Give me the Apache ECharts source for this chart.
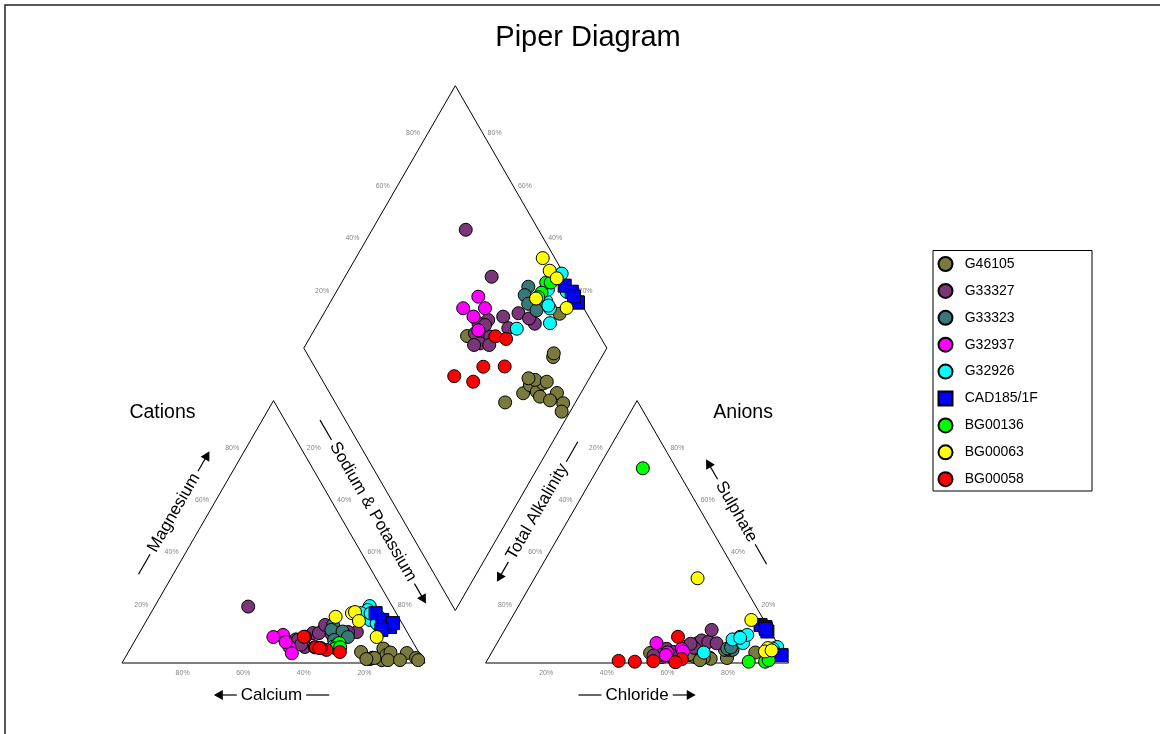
<!DOCTYPE html>
<html><head><meta charset="utf-8">
<script src="https://cdn.jsdelivr.net/npm/echarts@6/dist/echarts.min.js"></script>
<style>html,body{margin:0;padding:0;background:#fff}#c{width:1160px;height:734px}</style>
</head><body><div id="c"></div>
<script>
// ---------- DATA ----------
const groupNames = ['G46105','G33327','G33323','G32937','G32926','CAD185/1F','BG00136','BG00063','BG00058'];
// each sample: [Ca %, Mg %, Cl %, SO4 %]  (Na+K = 100-Ca-Mg ; total alkalinity = 100-Cl-SO4)
const G46105 = [[40.8,7.6,52.4,3.8],[19,4.2,55,1.1],[11,5,78.7,1.9],[11,5.5,76.5,5],[8,14.1,87,4],
  [17.5,1.5,60,3.8],[16.3,2,64,3.6],[13.7,1.1,65.6,3],[11.3,3,70.2,2],[15.7,1.9,68,2.3],
  [18.6,1.5,62.3,6.1],[9.4,4,66.2,7.6],[11.7,1.1,65.5,3.2],[4.1,3.8,73,2],[2,1.9,73.5,1.6],
  [1.7,1.1,71,2],[7.7,1.1,70.2,1.1]];
const G33327 = [[47.6,21.5,68,8],[41.7,9.9,67,8.6],[38.1,9,57,5.4],[35.7,8.8,62,4.2],[37.5,8.8,57,2.3],
  [36.6,6.1,59,3.3],[31.3,11.4,56,3.1],[29.3,11.4,60,3.7],[25.7,14.5,66,5.8],[24.4,11.4,69.5,8],
  [25.3,11,64,7.3],[16.6,11.8,68.3,12.6],[19.5,11.8,72.5,7.5],[37.4,7,54,2.8],[33.4,6,59,2.8],
  [34.6,10,60,4.2]];
const G33323 = [[23.1,14.5,78,7.8],[24.6,12.6,78,5],[21.2,12,79,5],[25.6,8.8,77,5.5],[20.5,9.9,78,6]];
const G32937 = [[41.5,10.7,62,5.4],[45.1,9.9,52.6,7.6],[41.7,6.1,63,4.4],[42,8,58,4],[42.1,3.7,58,3]];
const G32926 = [[7.4,21.7,93.2,6.1],[6.4,17.6,92,5.5],[8.8,20.2,79,10],[9.9,16.4,81.2,7.6],[8.4,15.1,77,9],
  [27.2,6.2,70,4],[11.6,19,81,10.7],[8.5,18.9,79.2,9.6]];
const CAD185_1F = [[6.8,19,83.5,14.5],[5.9,16.4,85.5,13.7],[4.7,13.7,87,12],[3,15.2,96.2,3],[8.1,12.6,86,13]];
const BG00136 = [[25.5,7,92,0.5],[24.5,7.6,14.8,74.2],[26.7,5.6,86.6,0.5],[25,6,92.9,1.1]];
const BG00063 = [[20.7,17.6,90.3,5.7],[14.6,19,79.5,16.4],[11,9.9,90,4.4],[13.4,19.4,53.8,32.3],[13.8,16,92,4.8]];
const BG00058 = [[33,6,64,1.5],[30,5,58.5,10],[31.5,5.7,55,0.7],[26,4.2,62.5,0.3],[35,10,43.5,0.8],[32,5.7,49,0.5]];
const groupData = [G46105,G33327,G33323,G32937,G32926,CAD185_1F,BG00136,BG00063,BG00058];
const tickValues = [20,40,60,80];

// ---------- STYLE ----------
const groupColors = ['#7a7a3c','#7a3678','#387878','#ff00ff','#00ffff','#0000ff','#00ff00','#ffff00','#ff0000'];
const groupSymbols = ['circle','circle','circle','circle','circle','rect','circle','circle','circle'];
const legendIcons = ['circle','circle','circle','circle','circle','path://M0,0L10,0L10,10L0,10Z','circle','circle','circle'];
const FONT = "'Liberation Sans', Arial, Helvetica, sans-serif";
const S = 3.03, OX = 122, OY = 663, WPX = 1160, HPX = 734;
const HT = Math.sqrt(3)/2;

// ---------- Piper transforms (ternary -> plot units) ----------
function cationXY(ca, mg){ const na = 100-ca-mg; return [na + mg/2, mg*HT]; }
function anionXY(cl, so4){ return [120 + cl + so4/2, so4*HT]; }
function diamondXY(na, clso4){ const t = 120 + clso4 - na; return [60 + (clso4+na)/2, t*HT]; }

const series = [];
// outlines
const outlines = [
  [cationXY(100,0), cationXY(0,0), cationXY(0,100), cationXY(100,0)],
  [anionXY(0,0), anionXY(100,0), anionXY(0,100), anionXY(0,0)],
  [diamondXY(100,0), diamondXY(0,0), diamondXY(0,100), diamondXY(100,100), diamondXY(100,0)]
];
outlines.forEach(o => series.push({type:'line', data:o, symbol:'none', silent:true, z:1,
  lineStyle:{color:'#000', width:1}, animation:false}));

// tick labels
const tickData = [];
tickValues.forEach(v => {
  tickData.push({name:v+'%', value:cationXY(v,0), label:{offset:[0,10]}});
  tickData.push({name:v+'%', value:cationXY(100-v,v), label:{offset:[-11,-5.5]}});
  tickData.push({name:v+'%', value:cationXY(0,100-v), label:{offset:[10,-5.5]}});
  tickData.push({name:v+'%', value:anionXY(v,0), label:{offset:[0,10]}});
  tickData.push({name:v+'%', value:anionXY(0,100-v), label:{offset:[-11,-5.5]}});
  tickData.push({name:v+'%', value:anionXY(100-v,v), label:{offset:[10,-5.5]}});
  tickData.push({name:v+'%', value:diamondXY(0,v), label:{offset:[-12,-5]}});
  tickData.push({name:v+'%', value:diamondXY(100-v,100), label:{offset:[9,-5]}});
});
series.push({type:'scatter', data:tickData, symbolSize:1, silent:true, z:1,
  itemStyle:{color:'rgba(0,0,0,0)'},
  label:{show:true, position:'inside', formatter:'{b}', fontSize:7, color:'#666', fontFamily:FONT}});

// sample series
groupNames.forEach((name,i) => {
  const rows = groupData[i];
  const pts = [];
  rows.forEach(r => pts.push(cationXY(r[0], r[1])));
  rows.forEach(r => pts.push(anionXY(r[2], r[3])));
  rows.forEach(r => pts.push(diamondXY(100-r[0]-r[1], r[2]+r[3])));
  series.push({type:'scatter', name, data:pts, symbol:groupSymbols[i], symbolSize:13, z:3+i*0.01,
    clip:false, itemStyle:{color:groupColors[i], borderColor:'#000', borderWidth:1, opacity:1}});
});

const chart = echarts.init(document.getElementById('c'), null, {renderer:'canvas'});
chart.setOption({
  animation:false,
  backgroundColor:'#fff',
  grid:{left:0, right:0, top:0, bottom:0, containLabel:false},
  xAxis:{type:'value', min:-OX/S, max:(WPX-OX)/S, show:false},
  yAxis:{type:'value', min:-(HPX-OY)/S, max:OY/S, show:false},
  legend:{data:groupNames.map((n,i)=>({name:n, icon:legendIcons[i]})), orient:'vertical',
    left:937.5, top:256, padding:0, itemWidth:28.4, itemHeight:14, itemGap:10.9, selectedMode:false,
    symbolKeepAspect:true,
    textStyle:{fontSize:14, color:'#000', fontFamily:FONT}},
  series
});

// ---------- annotations ----------
const mctx = document.createElement('canvas').getContext('2d');
function textW(t, size){ mctx.font = size + 'px ' + FONT; return mctx.measureText(t).width; }
function px(p){ return chart.convertToPixel({gridIndex:0}, p); }

function sideLabel(center, deg, text, arrowFirst){
  const fs = 17, w = textW(text, fs), aLen = 23, dLen = 23, gap = 4;
  const total = aLen + gap + w + gap + dLen, x0 = -total/2, x1 = total/2;
  const kids = [{type:'text', x:0, y:0, style:{text, font:fs+'px '+FONT, fill:'#000', textAlign:'center', textVerticalAlign:'middle'}}];
  let aStart, aTip, dA, dB;
  if (arrowFirst){ aTip = x0; aStart = x0 + aLen; dA = x1 - dLen; dB = x1; }
  else { dA = x0; dB = x0 + dLen; aTip = x1; aStart = x1 - aLen; }
  const dir = aTip < aStart ? 1 : -1;
  kids.push({type:'line', shape:{x1:dA, y1:0, x2:dB, y2:0}, style:{stroke:'#000', lineWidth:1.2}});
  kids.push({type:'line', shape:{x1:aStart, y1:0, x2:aTip + dir*8, y2:0}, style:{stroke:'#000', lineWidth:1.2}});
  kids.push({type:'polygon', shape:{points:[[aTip,0],[aTip+dir*9,-5],[aTip+dir*9,5]]}, style:{fill:'#000'}});
  return {type:'group', x:center[0], y:center[1], rotation:deg*Math.PI/180, children:kids, silent:true};
}
function offs(p, dx, dy){ const q = px(p); return [q[0]+dx, q[1]+dy]; }

const graphic = [
  {type:'rect', shape:{x:5, y:5, width:1400, height:1000}, style:{fill:'none', stroke:'#222', lineWidth:1.5}, silent:true, z:-10},
  {type:'text', x:588, y:38, style:{text:'Piper Diagram', font:'29px '+FONT, fill:'#000', textAlign:'center', textVerticalAlign:'middle'}},
  {type:'rect', shape:{x:933, y:250.5, width:159, height:240.5}, style:{fill:'none', stroke:'#000', lineWidth:1}, silent:true},
  {type:'text', x:px([50,0])[0]-111, y:413, style:{text:'Cations', font:'19.5px '+FONT, fill:'#000', textAlign:'center', textVerticalAlign:'middle'}},
  {type:'text', x:px([170,0])[0]+106, y:413, style:{text:'Anions', font:'19.5px '+FONT, fill:'#000', textAlign:'center', textVerticalAlign:'middle'}},
  sideLabel(offs([50,0],-2,32), 0, 'Calcium', true),
  sideLabel(offs([170,0],0,32), 0, 'Chloride', false),
  sideLabel(offs(cationXY(50,50),-23.75,-19), 60, 'Magnesium', false),
  sideLabel(offs(cationXY(0,50),23.75,-20), -60, 'Sodium & Potassium', false),
  sideLabel(offs(anionXY(0,50),-24,-20), 60, 'Total Alkalinity', true),
  sideLabel(offs(anionXY(50,50),23.5,-20), -60, 'Sulphate', true)
];
chart.setOption({graphic});
</script></body></html>
